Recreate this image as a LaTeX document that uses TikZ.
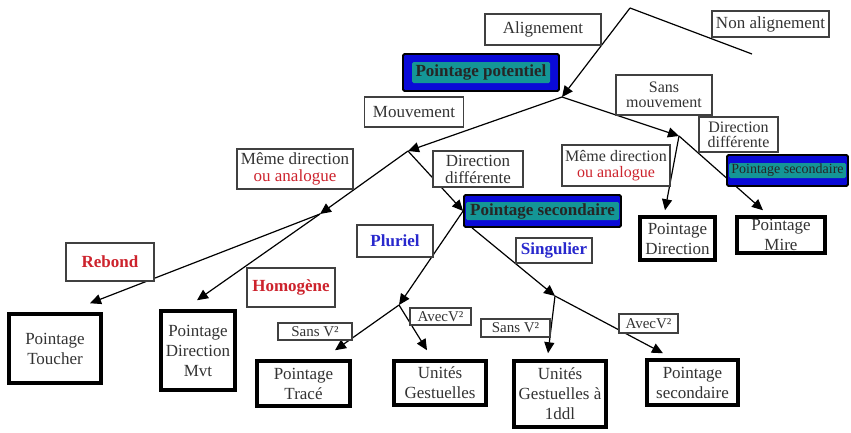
\documentclass[tikz,border=0pt]{standalone}
\usepackage{fontspec}
\setmainfont{Liberation Serif}
\usetikzlibrary{arrows.meta,backgrounds}

\definecolor{potblue}{RGB}{10,10,215}
\definecolor{potteal}{RGB}{20,150,150}
\definecolor{lblred}{RGB}{205,35,45}
\definecolor{lblblue}{RGB}{40,40,205}

\tikzset{
  lbl/.style={draw=black!75, line width=1.1pt, fill=white, inner sep=0pt, align=center, text=black!80, font=\fontsize{17}{17}\selectfont},
  leaf/.style={draw=black, line width=3.5pt, fill=white, inner sep=0pt, align=center, text=black!80, font=\fontsize{17}{20}\selectfont},
  potbox/.style 2 args={draw=black, line width=1.8pt, rounded corners=1.5pt, fill=potblue, inner sep=0pt, text=black!85,
    font=\fontsize{17}{18}\selectfont\bfseries,
    path picture={\fill[potteal] ([shift={(#1,-#2)}]path picture bounding box.north west) rectangle ([shift={(-#1,#2)}]path picture bounding box.south east);}},
  arr/.style={line width=1.2pt, -{Triangle[length=11pt,width=10pt]}},
  ln/.style={line width=1.2pt}
}

\begin{document}
\begin{tikzpicture}[x=1pt,y=-1pt]
\useasboundingbox (0,0) rectangle (851,432);

% branch points
\coordinate (apex) at (630,8);
\coordinate (nonend) at (752,54);
\coordinate (j1) at (562,97);
\coordinate (j2) at (408,151);
\coordinate (j3) at (679,136);
\coordinate (j4) at (320,214);
\coordinate (j5) at (399,305);
\coordinate (j6) at (555,296);

% labels
\node (align) at (543,29.5) [lbl, minimum width=116pt, minimum height=31pt] {Alignement};
\node (nonalign) at (770.5,24) [lbl, minimum width=117pt, minimum height=26pt] {Non alignement};
\node (mouv) at (414,112) [lbl, minimum width=99pt, minimum height=30pt] {Mouvement};
\node (sansmouv) at (664,95) [lbl, minimum width=96pt, minimum height=40pt, font=\fontsize{16}{15}\selectfont] {Sans\\mouvement};
\node (dirdiffr) at (738.5,134.5) [lbl, minimum width=79pt, minimum height=35pt, font=\fontsize{16}{15}\selectfont] {Direction\\différente};
\node (memer) at (616,165.5) [lbl, minimum width=108pt, minimum height=41pt, font=\fontsize{16}{16}\selectfont] {Même direction\\\textcolor{lblred}{ou analogue}};
\node (memel) at (295,169) [lbl, minimum width=116pt, minimum height=40pt] {Même direction\\\textcolor{lblred}{ou analogue}};
\node (dirdiffm) at (478,169) [lbl, minimum width=90pt, minimum height=36pt] {Direction\\différente};
\node (rebond) at (110,262) [lbl, minimum width=88pt, minimum height=38pt, text=lblred] {\bfseries Rebond};
\node (homog) at (291,287.5) [lbl, minimum width=88pt, minimum height=39pt, text=lblred] {\bfseries Homogène};
\node (pluriel) at (395,241) [lbl, minimum width=76pt, minimum height=32pt, text=lblblue] {\bfseries Pluriel};
\node (singul) at (554,250.5) [lbl, minimum width=76pt, minimum height=25pt, text=lblblue] {\bfseries Singulier};
\node (sansvl) at (315,331.5) [lbl, minimum width=74pt, minimum height=17pt, font=\fontsize{15}{15}\selectfont] {Sans V²};
\node (avecvl) at (440.5,316.5) [lbl, minimum width=61pt, minimum height=17pt, font=\fontsize{15}{15}\selectfont] {AvecV²};
\node (sansvr) at (515.5,328) [lbl, minimum width=69pt, minimum height=18pt, font=\fontsize{15}{15}\selectfont] {Sans V²};
\node (avecvr) at (648.5,323.5) [lbl, minimum width=59pt, minimum height=19pt, font=\fontsize{15}{15}\selectfont] {AvecV²};

% blue boxes
\node (potent) at (481,72.5) [potbox={9pt}{8pt}, minimum width=156pt, minimum height=37pt] {Pointage potentiel};
\node (secm) at (542.5,211) [potbox={2pt}{7pt}, minimum width=157pt, minimum height=32pt] {Pointage secondaire};
\node (secr) at (787.5,170.5) [potbox={2pt}{8pt}, minimum width=121pt, minimum height=31pt, font=\fontsize{14}{14}\selectfont] {Pointage secondaire};

% end boxes
\node (toucher) at (55,348.5) [leaf, minimum width=92pt, minimum height=69pt] {Pointage\\Toucher};
\node (dirmvt) at (198,350.5) [leaf, minimum width=74pt, minimum height=79pt] {Pointage\\Direction\\Mvt};
\node (trace) at (303.5,383.5) [leaf, minimum width=93pt, minimum height=45pt] {Pointage\\Tracé};
\node (unites) at (440,383) [leaf, minimum width=92pt, minimum height=44pt] {Unités\\Gestuelles};
\node (ddl) at (560,394) [leaf, minimum width=92pt, minimum height=66pt] {Unités\\Gestuelles à\\1ddl};
\node (secb) at (692.5,382.5) [leaf, minimum width=91pt, minimum height=45pt] {Pointage\\secondaire};
\node (pdir) at (677.5,238.5) [leaf, minimum width=75pt, minimum height=43pt] {Pointage\\Direction};
\node (mire) at (781,235) [leaf, minimum width=88pt, minimum height=36pt] {Pointage\\Mire};

\begin{scope}[on background layer]
\draw[ln] (apex) -- (nonend);
\draw[arr] (apex) -- (j1);
\draw[arr] (j1) -- (j2);
\draw[arr] (j1) -- (j3);
\draw[arr] (j2) -- (j4);
\draw[arr] (j2) -- (secm.west);
\draw[arr] (j3) -- ([xshift=-12.5pt,yshift=5pt]pdir.north);
\draw[arr] (j3) -- ([xshift=-18pt,yshift=5pt]mire.north);
\draw[arr] (j4) -- ([xshift=35pt,yshift=9pt]toucher.north);
\draw[arr] (j4) -- ([xshift=-1pt,yshift=9pt]dirmvt.north);
\draw[arr] (secm.west) -- (j5);
\draw[arr] ([xshift=9pt]secm.south west) -- (j6);
\draw[arr] (j5) -- ([xshift=31.5pt,yshift=9pt]trace.north);
\draw[arr] (j5) -- ([xshift=-13pt,yshift=9pt]unites.north);
\draw[arr] (j6) -- ([xshift=-12pt,yshift=6pt]ddl.north);
\draw[arr] (j6) -- ([xshift=-29.5pt,yshift=5pt]secb.north);
\end{scope}

\end{tikzpicture}
\end{document}
